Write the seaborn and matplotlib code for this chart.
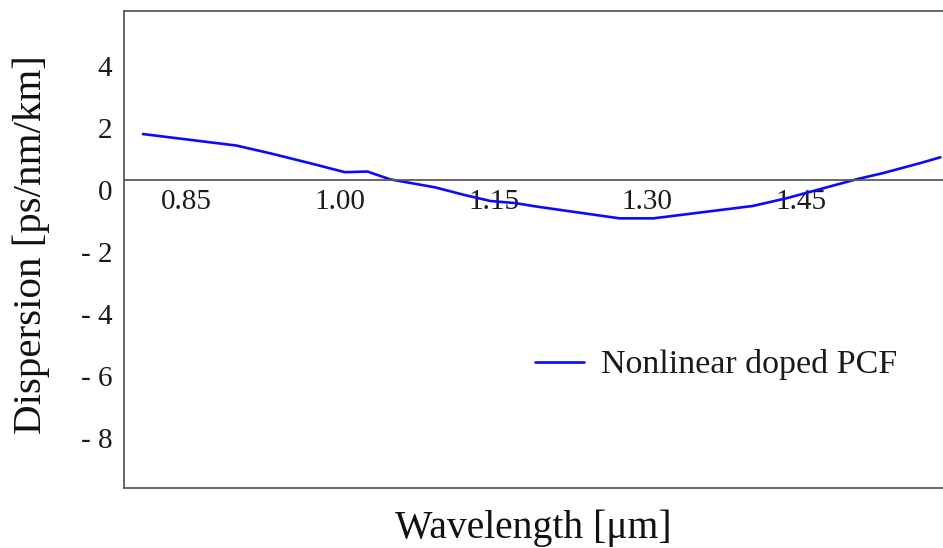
import matplotlib
matplotlib.use("Agg")
import matplotlib.pyplot as plt
import matplotlib.transforms as mtransforms
import seaborn as sns
import pandas as pd

# ---- data ----
wavelength = [0.808, 0.899, 0.932, 0.971, 1.005, 1.027, 1.049, 1.093, 1.121, 1.147,
              1.172, 1.190, 1.273, 1.306, 1.403, 1.436, 1.504, 1.530, 1.566, 1.586]
dispersion = [1.48, 1.11, 0.86, 0.54, 0.25, 0.27, 0.02, -0.24, -0.48, -0.68,
              -0.75, -0.85, -1.24, -1.24, -0.84, -0.59, 0.02, 0.22, 0.54, 0.73]
series_name = "Nonlinear doped PCF"

x_ticks = [0.85, 1.00, 1.15, 1.30, 1.45]
x_tick_labels = ["0.85", "1.00", "1.15", "1.30", "1.45"]
y_ticks = [4, 2, 0, -2, -4, -6, -8]
y_tick_labels = ["4", "2", "0", "- 2", "- 4", "- 6", "- 8"]

x_label = "Wavelength [\u03bcm]"
y_label = "Dispersion [ps/nm/km]"

df = pd.DataFrame({"Wavelength": wavelength, "Dispersion": dispersion})

sns.set_style("white")
plt.rcParams["font.family"] = ["Liberation Serif", "DejaVu Serif"]

W, H, DPI = 943, 548, 100
fig = plt.figure(figsize=(W / DPI, H / DPI), dpi=DPI)
ax_left, ax_right, ax_top, ax_bottom = 124, 943, 10.7, 488
ax = fig.add_axes([ax_left / W, 1 - ax_bottom / H,
                   (ax_right - ax_left) / W, (ax_bottom - ax_top) / H])

sns.lineplot(data=df, x="Wavelength", y="Dispersion", color="#0a0aff",
             linewidth=1.9, label=series_name, ax=ax)

ax.set_xlim(0.7895, 1.5885)
ax.set_ylim(-9.94, 5.46)

spine_col = "#5a5a5a"
for s in ["top", "left", "bottom"]:
    ax.spines[s].set_color(spine_col)
    ax.spines[s].set_linewidth(1.3)
ax.spines["right"].set_visible(False)
ax.spines["bottom"].set_position(("data", 0))
# bottom frame line of the box
ax.plot([0, 1], [0, 0], transform=ax.transAxes, color=spine_col,
        linewidth=1.3, clip_on=False)

ax.set_xticks(x_ticks)
ax.set_xticklabels(x_tick_labels)
ax.set_yticks(y_ticks)
ax.set_yticklabels(y_tick_labels)
ax.tick_params(axis="both", length=0, labelsize=21, colors="#1a1a1a")
ax.tick_params(axis="x", pad=6.5)
ax.tick_params(axis="y", pad=8.5)
ax.set_xlabel("")
ax.set_ylabel("")

fig.text(533 / W, 10 / H, x_label, ha="center", va="baseline",
         fontsize=28.5, color="#111111")
fig.text(31 / W, 1 - 245 / H, y_label, ha="center", va="center",
         rotation=90, fontsize=29.5, color="#111111")

leg = ax.legend(loc="center left",
                bbox_to_anchor=((535 - ax_left) / (ax_right - ax_left),
                                (ax_bottom - 365) / (ax_bottom - ax_top)),
                frameon=False, fontsize=24.5, handlelength=1.45,
                handletextpad=0.5, borderpad=0, borderaxespad=0)
for t in leg.get_texts():
    t.set_color("#1a1a1a")

# y tick labels sit slightly below their tick positions in the reference
offset = mtransforms.ScaledTranslation(0, -10 / DPI, fig.dpi_scale_trans)
for tick in ax.yaxis.get_major_ticks():
    tick.label1.set_transform(tick.label1.get_transform() + offset)

fig.savefig("out.png", dpi=DPI)
